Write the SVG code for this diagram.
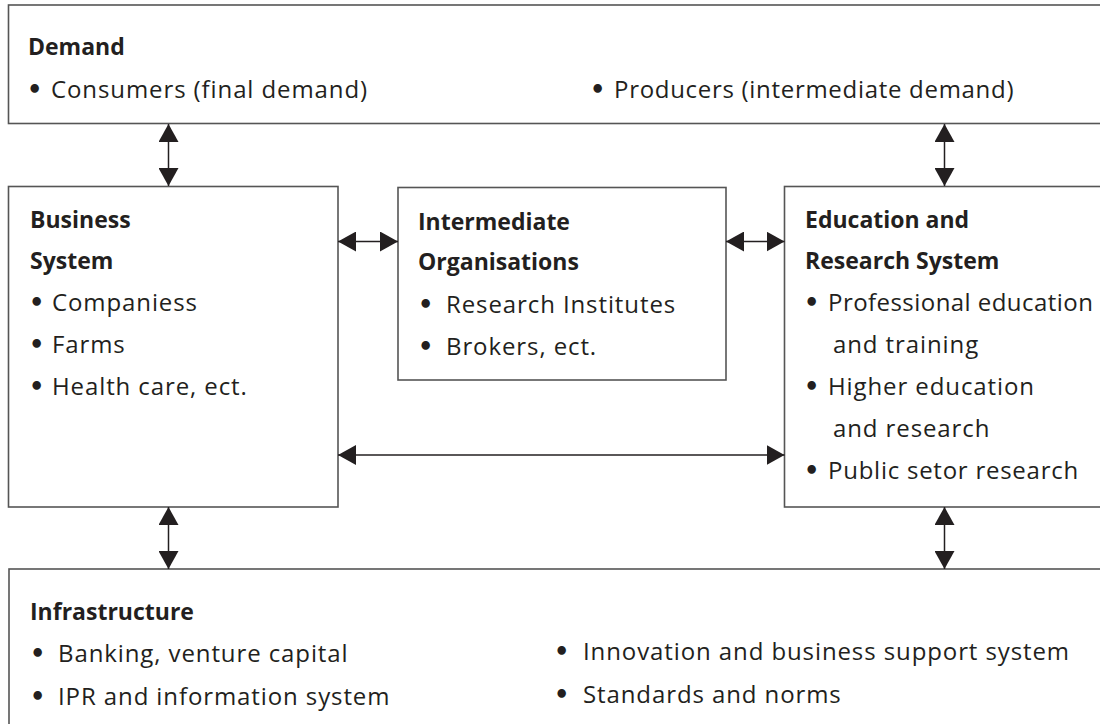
<svg xmlns="http://www.w3.org/2000/svg" width="1100" height="724" viewBox="0 0 1100 724">
<style>
.box{fill:#fff;stroke:#555;stroke-width:1.6}
.t{font-family:"Open Sans","Liberation Sans",sans-serif;font-size:24px;letter-spacing:0.9px;fill:#231f20}
.h{font-weight:bold;font-size:23px;letter-spacing:0}
.b{font-family:"DejaVu Sans",sans-serif;font-size:24px;font-weight:bold}
.c{stroke:#231f20;stroke-width:1.5;fill:none;marker-start:url(#ah);marker-end:url(#ah)}
</style>
<defs>
<marker id="ah" markerUnits="userSpaceOnUse" viewBox="0 0 18 20" refX="18" refY="10" markerWidth="18" markerHeight="20" orient="auto-start-reverse">
<path d="M0,0 L18,10 L0,20 Z" fill="#231f20"/>
</marker>
</defs>
<rect width="1100" height="724" fill="#fff"/>
<g id="demand">
<rect class="box" x="8.5" y="5" width="1100" height="118.5"/>
<text class="t h" x="28" y="55">Demand</text>
<text class="t" x="27" y="98"><tspan class="b">•</tspan><tspan x="51">Consumers (final demand)</tspan></text>
<text class="t" x="590" y="98"><tspan class="b">•</tspan><tspan x="614" letter-spacing="0.7">Producers (intermediate demand)</tspan></text>
</g>
<g id="business">
<rect class="box" x="8.5" y="186.5" width="329.5" height="320.5"/>
<text class="t h" x="30" y="228">Business</text>
<text class="t h" x="30" y="269">System</text>
<text class="t" x="29" y="311"><tspan class="b">•</tspan><tspan x="52">Companiess</tspan></text>
<text class="t" x="29" y="353"><tspan class="b">•</tspan><tspan x="52">Farms</tspan></text>
<text class="t" x="29" y="395"><tspan class="b">•</tspan><tspan x="52">Health care, ect.</tspan></text>
</g>
<g id="intermediate">
<rect class="box" x="398" y="187.5" width="328" height="192.5"/>
<text class="t h" x="418" y="230">Intermediate</text>
<text class="t h" x="418" y="270">Organisations</text>
<text class="t" x="418" y="313"><tspan class="b">•</tspan><tspan x="446">Research Institutes</tspan></text>
<text class="t" x="418" y="355"><tspan class="b">•</tspan><tspan x="446">Brokers, ect.</tspan></text>
</g>
<g id="education">
<rect class="box" x="784.5" y="186.5" width="330" height="320.5"/>
<text class="t h" x="805" y="228">Education and</text>
<text class="t h" x="805" y="269">Research System</text>
<text class="t" x="804" y="311"><tspan class="b">•</tspan><tspan x="828" letter-spacing="0.45">Professional education</tspan></text>
<text class="t" x="833" y="353">and training</text>
<text class="t" x="804" y="395"><tspan class="b">•</tspan><tspan x="828">Higher education</tspan></text>
<text class="t" x="833" y="437">and research</text>
<text class="t" x="804" y="479"><tspan class="b">•</tspan><tspan x="828" letter-spacing="0.75">Public setor research</tspan></text>
</g>
<g id="infrastructure">
<rect class="box" x="9" y="569" width="1100" height="170"/>
<text class="t h" x="30" y="620">Infrastructure</text>
<text class="t" x="30" y="662"><tspan class="b">•</tspan><tspan x="58">Banking, venture capital</tspan></text>
<text class="t" x="30" y="705"><tspan class="b">•</tspan><tspan x="58">IPR and information system</tspan></text>
<text class="t" x="554" y="660"><tspan class="b">•</tspan><tspan x="583">Innovation and business support system</tspan></text>
<text class="t" x="554" y="703"><tspan class="b">•</tspan><tspan x="583">Standards and norms</tspan></text>
</g>
<g id="connectors">
<line class="c" x1="168.5" y1="124" x2="168.5" y2="186"/>
<line class="c" x1="944.5" y1="124" x2="944.5" y2="186"/>
<line class="c" x1="338" y1="241.5" x2="398" y2="241.5"/>
<line class="c" x1="726" y1="241.5" x2="784.5" y2="241.5"/>
<line class="c" x1="338" y1="455" x2="784.5" y2="455"/>
<line class="c" x1="168.5" y1="507" x2="168.5" y2="569"/>
<line class="c" x1="944.5" y1="507" x2="944.5" y2="569"/>
</g>
</svg>
